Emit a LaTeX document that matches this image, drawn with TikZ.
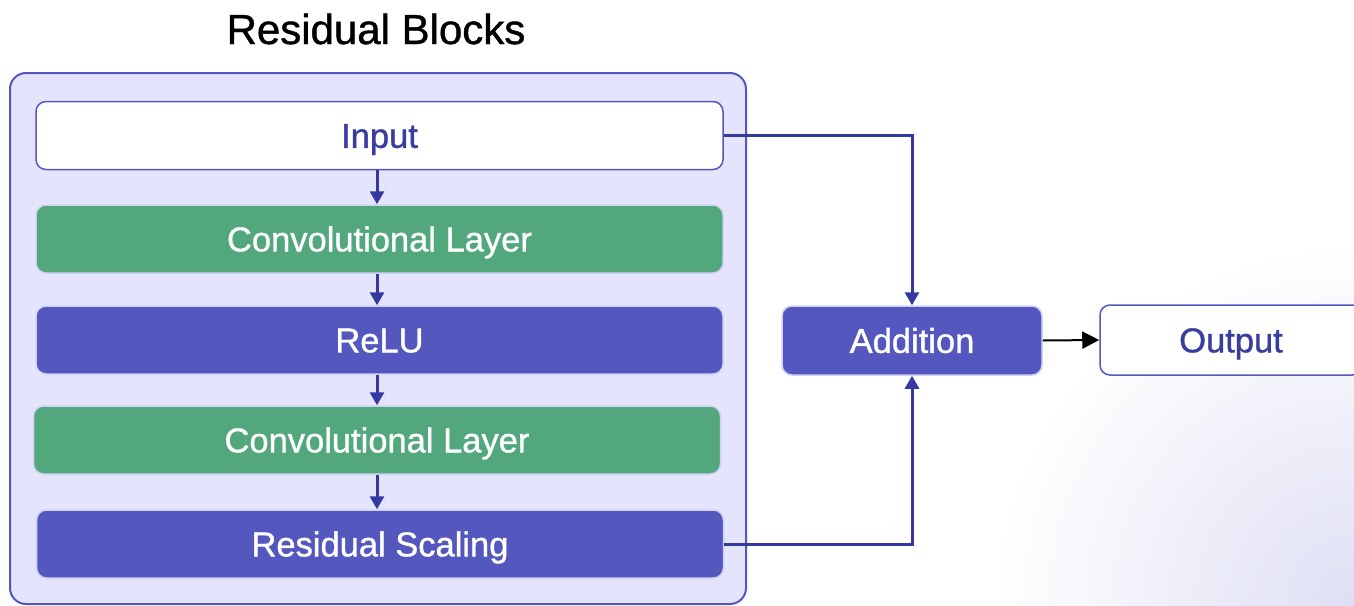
\documentclass[tikz,border=0pt]{standalone}
\usepackage{fontspec}
\setmainfont{Liberation Sans}
\newfontfamily\labelfamily{Liberation Sans}[FakeBold=1.0]
\usetikzlibrary{arrows.meta}

\definecolor{panelfill}{HTML}{E4E5FD}
\definecolor{frameline}{HTML}{5457C0}
\definecolor{convgreen}{HTML}{52A87C}
\definecolor{opblue}{HTML}{5357BE}
\definecolor{inktext}{HTML}{3A3DA0}
\definecolor{linkblue}{HTML}{3438A0}
\definecolor{softedge}{HTML}{D0D2F5}
\definecolor{haze}{HTML}{DEDFF4}

\tikzset{
  labelfont/.style={font=\labelfamily\fontsize{34.5}{40}\selectfont,
    text height=24.7pt, text depth=0pt},
  stagebox/.style={labelfont, rounded corners=10pt, minimum width=687pt,
    minimum height=68pt, inner sep=0pt, line width=1.5pt},
  hollowbox/.style={stagebox, draw=frameline, fill=white, text=inktext},
  convbox/.style={stagebox, draw=softedge, fill=convgreen, text=white},
  opbox/.style={stagebox, draw=softedge, fill=opblue, text=white},
  flow/.style={draw=linkblue, line width=3pt,
    -{Triangle[length=13pt,width=14pt]}},
  plainflow/.style={draw=black, line width=2pt,
    -{Triangle[length=17pt,width=17pt]}},
}

\begin{document}
\begin{tikzpicture}[x=1pt,y=-1pt]
\useasboundingbox (0,0) rectangle (1354,605);

% page background with a soft tint in the lower right corner
\begin{scope}
  \clip (0,0) rectangle (1354,605);
  \fill[white] (0,0) rectangle (1354,605);
  \shade[inner color=haze, outer color=white] (1354,605) circle[radius=360];
\end{scope}

% title
\node[font=\labelfamily\fontsize{42}{48}\selectfont, text height=30pt, text depth=0pt]
  (title) at (376,29) {Residual Blocks};

% container for the residual block
\node[draw=frameline, fill=panelfill, line width=2pt, rounded corners=16pt,
      minimum width=736pt, minimum height=531pt, inner sep=0pt] (panel) at (378,338.5) {};

% stages of the block
\node[hollowbox] (input) at (379.5,135.5) {Input};
\node[convbox]   (conv1) at (379.5,239)   {Convolutional Layer};
\node[opbox]     (relu)  at (379.5,340)   {ReLU};
\node[convbox]   (conv2) at (377,440)     {Convolutional Layer};
\node[opbox]     (scale) at (380,544)     {Residual Scaling};

% addition and output
\node[opbox, minimum width=260pt, minimum height=69pt] (add) at (912,340.5) {Addition};
\node[hollowbox, minimum width=262pt, minimum height=70pt] (out) at (1231,340) {Output};

% connectors inside the block
\coordinate (c1) at (377,171);
\draw[flow] (input.south -| c1) -- (conv1.north -| c1);
\draw[flow] (conv1.south -| c1) -- (relu.north -| c1);
\draw[flow] (relu.south -| c1) -- (conv2.north -| c1);
\draw[flow] (conv2.south -| c1) -- (scale.north -| c1);

% skip connection and scaled branch into the addition
\draw[flow] (input.east) -- (input.east -| add.north) -- (add.north);
\draw[flow] (scale.east) -| (add.south);

% addition to output
\draw[plainflow] (add.east) -- (out.west);
\end{tikzpicture}
\end{document}
